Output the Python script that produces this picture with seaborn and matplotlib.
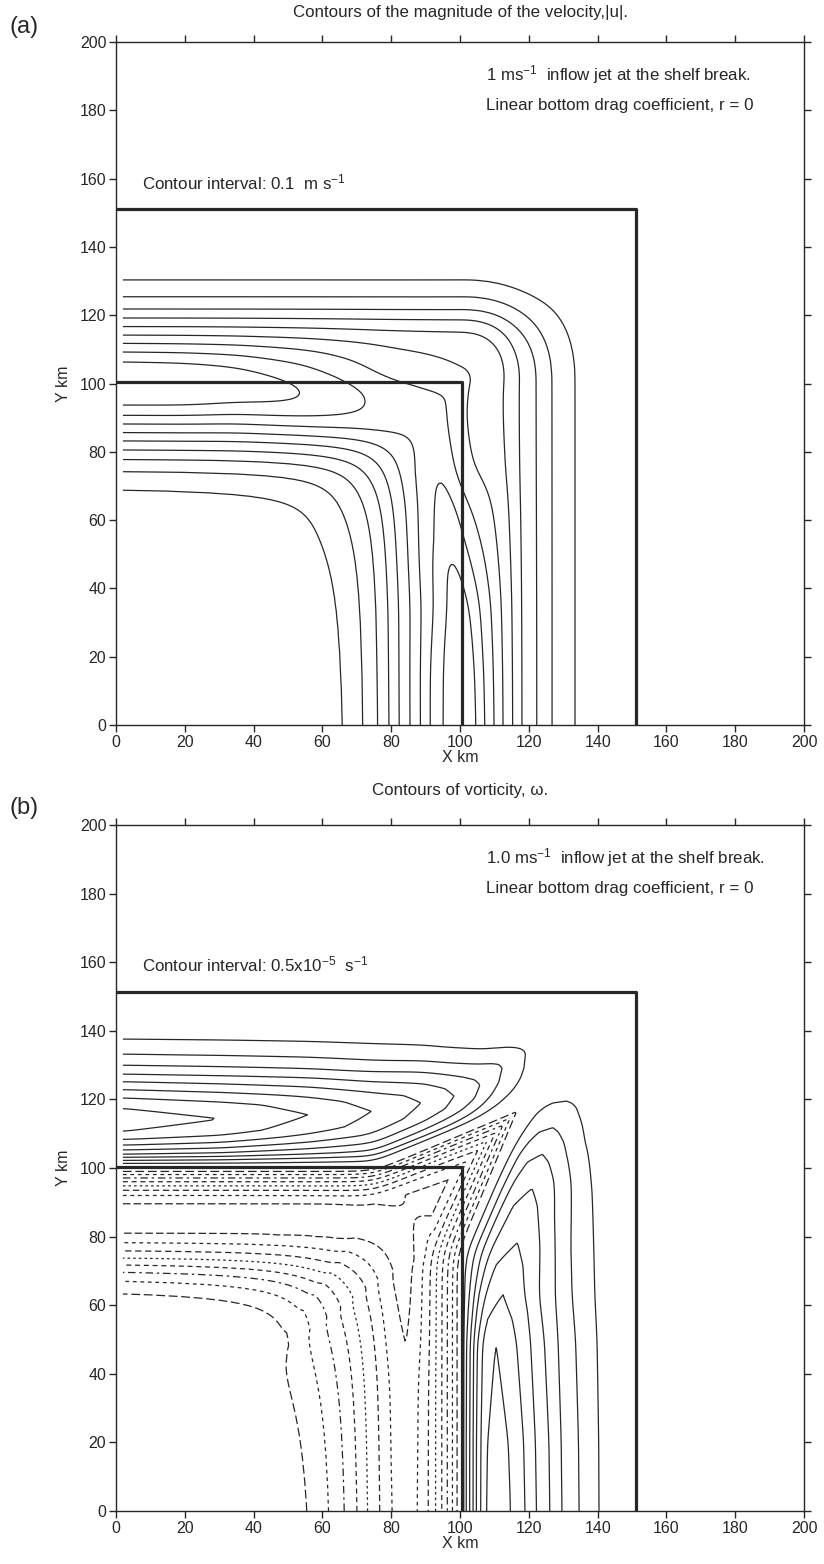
import numpy as np
import matplotlib
matplotlib.use("Agg")
import matplotlib.pyplot as plt
import seaborn as sns

sns.set_theme(style="ticks")
plt.rcParams["font.family"] = ["Liberation Sans", "DejaVu Sans"]
plt.rcParams["mathtext.fontset"] = "custom"
plt.rcParams["mathtext.rm"] = "Liberation Sans"
plt.rcParams["mathtext.default"] = "regular"

INK = "#272727"

# ---------------- model grid and topography (km) ----------------
grid_x = np.arange(2.0, 200.01, 0.5)
grid_y = np.arange(0.0, 200.01, 0.5)
axis_ticks = np.arange(0, 201, 20)

shelf_break_x = [0.0, 100.6, 100.6]
shelf_break_y = [100.4, 100.4, 0.0]
slope_foot_x = [0.0, 151.2, 151.2]
slope_foot_y = [151.2, 151.2, 0.0]

jet_axis_x = 100.0
jet_axis_y = 100.0

# ---------------- (a) speed |u| (m/s) ----------------
speed_levels = [0.9, 0.8, 0.7, 0.6, 0.5, 0.4, 0.3, 0.2, 0.1, 0.0]
# distance from the jet axis (km) at which each speed is reached
along_inner_km = [6.3, 9.3, 11.8, 14.3, 16.7, 19.3, 22.0, 25.4, 30.5, 38.0]
along_outer_km = [6.4, 9.3, 11.8, 14.2, 16.7, 19.2, 21.8, 25.4, 30.3, 38.0]
down_inner_km = [4.9, 8.7, 11.5, 14.5, 17.6, 20.5, 23.7, 27.8, 33.3, 42.0]
down_outer_km = [4.6, 7.2, 9.9, 12.5, 15.3, 18.0, 22.3, 26.7, 33.4, 42.0]
jet_max_speed = 1.0
# speed on the jet axis along each arm
core_x_km = [0, 20, 55, 72, 92, 200]
core_speed_x = [1.0, 0.99, 0.9, 0.8, 0.72, 0.72]
core_y_km = [0, 15, 48, 71, 92, 200]
core_speed_y = [1.0, 0.99, 0.9, 0.8, 0.72, 0.72]
# the core cuts the corner: shift of the jet axis towards the shelf (km)
cut_x_km = [0, 35, 55, 70, 80, 95, 200]
cut_x = [0, 0.5, 3.0, 5.5, 8.0, 9.0, 9.0]
cut_y_km = [0, 35, 48, 65, 75, 95, 200]
cut_y = [0, 0.5, 2.5, 5.0, 8.0, 9.0, 9.0]
cut_inner_km = 14.0
cut_outer_km = 10.0
speed_contours = [0.1, 0.2, 0.3, 0.4, 0.5, 0.6, 0.7, 0.8, 0.9]

# ---------------- (b) vorticity, in contour intervals (0.5e-5 1/s) ----------------
# positive tongue over the along-shelf arm
tongue_x = [0, 30.4, 56, 74.4, 89, 98.5, 106, 112, 119.5, 124]
tongue_peak = [8.6, 8, 7, 6, 5, 4, 3, 2, 1, 0]
tongue_axis_y = [114, 114.3, 115.5, 116.4, 119, 120.8, 123.7, 129.5, 133.5, 136]
tongue_levels = [8.6, 8, 7, 6, 5, 4, 3, 2, 1, 0]
tongue_above_km = [0, 3.6, 6.5, 8.9, 11.2, 13.4, 16.0, 19.2, 23.6, 28.5]
tongue_below_y = [114, 110.4, 108.2, 106.6, 105.2, 104.0, 103.1, 102.2, 101.3, 100.2]
# positive arches beside the down-slope arm
arch_y = [0, 20, 49, 63, 78.2, 94.5, 104.3, 111.6, 120.3, 124]
arch_peak = [7.6, 7.5, 7, 6, 5, 4, 3, 2, 1, 0]
arch_axis_x = [110.8, 110.7, 110.4, 112.3, 116.7, 121.0, 123.9, 126.8, 131.2, 134]
arch_levels = [7.6, 7, 6, 5, 4, 3, 2, 1, 0]
arch_left_x = [110.8, 107.6, 106.0, 104.7, 103.8, 102.8, 101.8, 100.8, 100.0]
arch_right_km = [0, 3.9, 8.1, 11.4, 15.3, 18.8, 23.8, 29.6, 35.2]
# negative band on the shelf side of the jet
band_along_levels = [0, 1, 2, 3, 4, 5, 6, 7, 8, 8.5, 8, 7, 6, 5, 4, 3, 2, 1, 0]
band_along_km = [0, 1.0, 1.9, 2.9, 4.0, 5.2, 6.5, 8.0, 10.3, 14.5, 18.9, 21.6, 23.9,
                 25.9, 27.8, 29.8, 32.2, 35.5, 40]
band_down_levels = [0, 1, 2, 3, 4, 5, 6, 7, 7.5, 7, 6, 5, 4, 3, 2, 1, 0]
band_down_km = [0, 0.8, 2.2, 3.7, 5.3, 7.1, 9.2, 12.4, 15.5, 19.7, 23.1, 26.5, 29.4,
                32.8, 36.9, 42.4, 47]
band_scale_y_km = [0, 40, 48, 70]
band_scale_y = [1.0, 1.02, 1.07, 1.13]
# negative wedge thrown off the corner, and the edges it cuts into the shear bands
wedge_tip_x = 118.0
wedge_tip_y = 118.0
wedge_slope = 0.41
wedge_reach_km = 12.0
wedge_top_x = [0, 75, 118, 200]
wedge_top_y = [100.2, 100.2, 118, 152]
wedge_side_y = [0, 75, 118, 200]
wedge_side_x = [100.0, 100.0, 118, 156]
ramp_km = 1.5

vort_pos = [1, 2, 3, 4, 5, 6, 7, 8, 9]
vort_neg = [-9, -8, -7, -6, -5, -4, -3, -2, -1]
neg_dashes = [(0, (5, 3)), (0, (6, 2.5)), (0, (3, 3)), (0, (5, 3)), (0, (2, 2.5)),
              (0, (4, 3)), (0, (6, 3, 2, 3)), (0, (3, 3)), (0, (7, 3))]

X, Y = np.meshgrid(grid_x, grid_y)


def smooth_profile(q, xp, fp, sigma_km):
    """Interpolate a table onto the 1-D grid q and soften its corners."""
    vals = np.interp(q, xp, fp)
    step = q[1] - q[0]
    half = int(3 * sigma_km / step)
    k = np.exp(-0.5 * ((np.arange(-half, half + 1) * step) / sigma_km) ** 2)
    k /= k.sum()
    padded = np.pad(vals, half, mode="edge")
    return np.convolve(padded, k, mode="valid")


def jet_frame(X, Y, p_out=2.4, q_in=2.5, blend=6.0):
    dx = X - jet_axis_x
    dy = Y - jet_axis_y
    corner = (dx > 0) & (dy > 0)
    outer = np.where(corner,
                     (np.clip(dx, 0, None) ** p_out + np.clip(dy, 0, None) ** p_out) ** (1 / p_out),
                     np.maximum(dx, dy))
    a = np.clip(-dx, 1e-6, None)
    b = np.clip(-dy, 1e-6, None)
    inner = -(a ** -q_in + b ** -q_in) ** (-1 / q_in)
    c = np.where((dx <= 0) & (dy <= 0), inner, outer)
    w = 1.0 / (1.0 + np.exp(np.clip((dy - dx) / blend, -50, 50)))
    return dx, dy, c, w


def jet_profile(c, inner_km, outer_km):
    """Speed across the jet: table on the flanks, rounded cap inside the 0.9 isotach."""
    dist = np.abs(c)
    edge = np.where(c < 0, inner_km[0], outer_km[0])
    flank = np.where(c < 0, np.interp(dist, inner_km, speed_levels),
                     np.interp(dist, outer_km, speed_levels))
    cap = jet_max_speed - (jet_max_speed - speed_levels[0]) * (dist / edge) ** 2
    return np.where(dist < edge, cap, flank)


def soft_max(a, b, k=1.0):
    m = np.maximum(a, b)
    return m + k * np.log(np.exp((a - m) / k) + np.exp((b - m) / k))


# ---- speed field ----
dx, dy, c, w = jet_frame(X, Y)
cut = (1 - w) * smooth_profile(grid_x, cut_x_km, cut_x, 4.0)[None, :] \
    + w * smooth_profile(grid_y, cut_y_km, cut_y, 4.0)[:, None]
cut_width = np.where(c < 0, cut_inner_km, cut_outer_km)
c_jet = c + cut * np.exp(-(c / cut_width) ** 2)
prof = (1 - w) * jet_profile(c_jet, along_inner_km, along_outer_km) \
    + w * jet_profile(c_jet, down_inner_km, down_outer_km)
core_x = smooth_profile(grid_x, core_x_km, core_speed_x, 5.0)[None, :]
core_y = smooth_profile(grid_y, core_y_km, core_speed_y, 5.0)[:, None]
core = (1 - w) * core_x + w * core_y
speed = prof * (1 - (1 - core) * np.exp(-(c_jet / 12.0) ** 2))

# ---- vorticity field ----
s = (dx + dy) / np.sqrt(2)
n = (dx - dy) / np.sqrt(2)
s_tip = ((wedge_tip_x - jet_axis_x) + (wedge_tip_y - jet_axis_y)) / np.sqrt(2)
wedge_depth = wedge_slope * (s_tip - s) - np.abs(n)
reach = 30.0 * np.exp(-(np.clip(s, None, 0) / wedge_reach_km) ** 2)
wedge_depth = np.minimum(wedge_depth, -c + reach)
neg_depth = soft_max(-c, wedge_depth, 1.0)

# tongue: lower flank sits on the wedge edge, upper flank on a fixed top
yc = smooth_profile(grid_x, tongue_x, tongue_axis_y, 3.0)[None, :]
amp_h = smooth_profile(grid_x, tongue_x, tongue_peak, 2.5)[None, :]
base_y = smooth_profile(grid_x, wedge_top_x, wedge_top_y, 3.0)[None, :]
base0 = tongue_below_y[-1]
top_y = tongue_axis_y[0] + tongue_above_km[-1]
ref_lo = base0 + (Y - base_y) / np.maximum(yc - base_y, 0.5) * (tongue_axis_y[0] - base0)
ref_up = (Y - yc) / np.maximum(top_y - yc, 0.5) * tongue_above_km[-1]
g_h = np.where(Y >= yc,
               np.interp(ref_up, tongue_above_km, tongue_levels),
               np.interp(ref_lo, tongue_below_y[::-1], tongue_levels[::-1]))
p_h = g_h / tongue_levels[0] * np.clip(amp_h, 0, None)

# arches: left flank sits on the wedge edge, right flank on a fixed outer edge
xc = smooth_profile(grid_y, arch_y, arch_axis_x, 3.0)[:, None]
amp_v = smooth_profile(grid_y, arch_y, arch_peak, 2.5)[:, None]
base_x = smooth_profile(grid_y, wedge_side_y, wedge_side_x, 3.0)[:, None]
base1 = arch_left_x[-1]
edge_x = arch_axis_x[0] + arch_right_km[-1]
ref_l = base1 + (X - base_x) / np.maximum(xc - base_x, 0.5) * (arch_axis_x[0] - base1)
ref_r = (X - xc) / np.maximum(edge_x - xc, 0.5) * arch_right_km[-1]
g_v = np.where(X >= xc,
               np.interp(ref_r, arch_right_km, arch_levels),
               np.interp(ref_l, arch_left_x[::-1], arch_levels[::-1]))
p_v = g_v / arch_levels[0] * np.clip(amp_v, 0, None)

d = np.clip(neg_depth, 0, None)
band_scale = smooth_profile(grid_y, band_scale_y_km, band_scale_y, 6.0)[:, None]
band_dn = np.interp(d, band_down_km, band_down_levels)
band_dn = band_dn * (1 + (band_scale - 1) * np.exp(-((d - 15.5) / 7.0) ** 2))
band = (1 - w) * np.interp(d, band_along_km, band_along_levels) + w * band_dn

ramp = np.clip(-neg_depth / ramp_km, 0, 1)
ramp = ramp * ramp * (3 - 2 * ramp)
vorticity = np.where(neg_depth > 0, -band, (p_h + p_v) * ramp)

# ---------------- figure ----------------
fig = plt.figure(figsize=(8.24, 15.64), dpi=100)
ax_a = fig.add_axes([0.1408, 0.5364, 0.8350, 0.4367])
ax_b = fig.add_axes([0.1408, 0.0339, 0.8350, 0.4386])

TICK_FS = 11.5


def dress(ax):
    ax.set_xlim(0, 200)
    ax.set_ylim(0, 200)
    ax.set_xticks(axis_ticks)
    ax.set_yticks(axis_ticks)
    ax.tick_params(direction="out", length=5, width=1.0, colors=INK, labelsize=TICK_FS,
                   top=True, right=True, labeltop=False, labelright=False, pad=2)
    for sp in ax.spines.values():
        sp.set_color(INK)
        sp.set_linewidth(1.0)
        sp.set_visible(True)
    ax.set_xlabel("X km", fontsize=TICK_FS, color=INK, labelpad=0)
    ax.set_ylabel("Y km", fontsize=TICK_FS, color=INK, labelpad=6)
    for xs, ys in ((shelf_break_x, shelf_break_y), (slope_foot_x, slope_foot_y)):
        sns.lineplot(x=xs, y=ys, sort=False, estimator=None, ax=ax, color=INK,
                     linewidth=2.3, solid_joinstyle="round", solid_capstyle="butt")


ax_a.contour(X, Y, speed, levels=speed_contours, colors=INK, linewidths=0.9)
dress(ax_a)

ax_b.contour(X, Y, vorticity, levels=vort_pos, colors=INK, linewidths=0.9,
             linestyles="solid")
ax_b.contour(X, Y, vorticity, levels=vort_neg, colors=INK, linewidths=0.9,
             linestyles=neg_dashes)
dress(ax_b)

TXT = 12.2
ax_a.text(0.5, 1.043, "Contours of the magnitude of the velocity,|u|.", transform=ax_a.transAxes,
          ha="center", va="center", fontsize=TXT, color=INK)
ax_a.text(107.6, 190.6, r"1 ms$^{-1}$  inflow jet at the shelf break.", fontsize=TXT,
          va="center", color=INK)
ax_a.text(107.6, 181.5, "Linear bottom drag coefficient, r = 0", fontsize=TXT,
          va="center", color=INK)
ax_a.text(7.6, 159.0, r"Contour interval: 0.1  m s$^{-1}$", fontsize=TXT, va="center", color=INK)

ax_b.text(0.5, 1.05, "Contours of vorticity, \u03c9.", transform=ax_b.transAxes,
          ha="center", va="center", fontsize=TXT, color=INK)
ax_b.text(107.6, 190.4, r"1.0 ms$^{-1}$  inflow jet at the shelf break.", fontsize=TXT,
          va="center", color=INK)
ax_b.text(107.6, 181.6, "Linear bottom drag coefficient, r = 0", fontsize=TXT,
          va="center", color=INK)
ax_b.text(7.6, 159.2, r"Contour interval: 0.5x10$^{-5}$  s$^{-1}$", fontsize=TXT,
          va="center", color=INK)

fig.text(24 / 824, 1 - 27 / 1564, "(a)", fontsize=17, ha="center", va="center", color=INK)
fig.text(24 / 824, 1 - 808 / 1564, "(b)", fontsize=17, ha="center", va="center", color=INK)

fig.savefig("out.png", dpi=100, facecolor="white")
